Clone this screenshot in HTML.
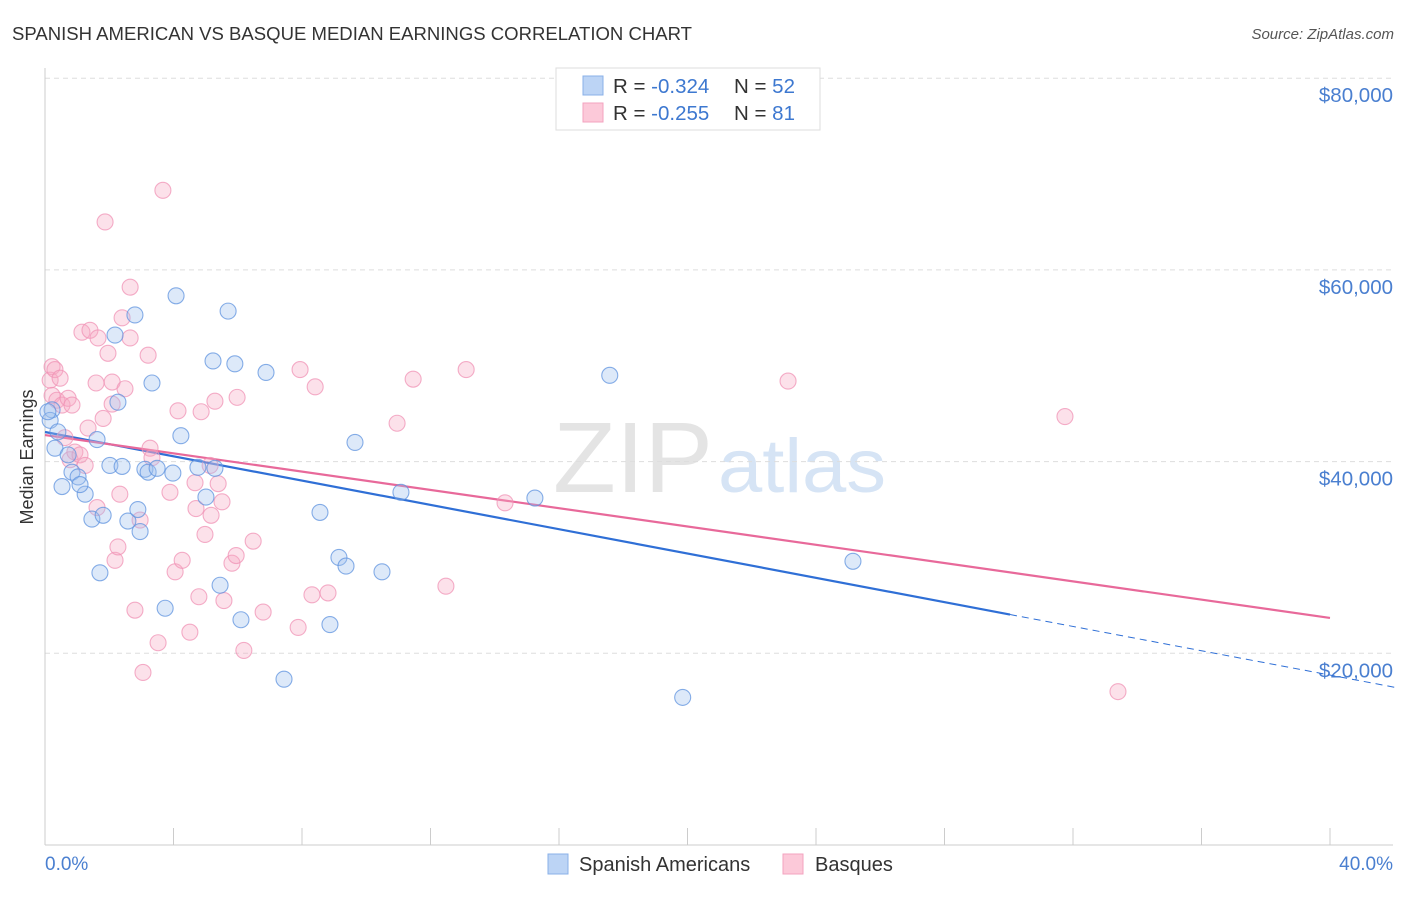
<!DOCTYPE html>
<html><head><meta charset="utf-8"><style>
body{margin:0;background:#fff;font-family:"Liberation Sans",sans-serif}
svg text{font-family:"Liberation Sans",sans-serif}
</style></head><body>
<svg id="chart" width="1406" height="892" xmlns="http://www.w3.org/2000/svg">
<text x="12" y="40" font-size="18" fill="#333" textLength="680" lengthAdjust="spacingAndGlyphs">SPANISH AMERICAN VS BASQUE MEDIAN EARNINGS CORRELATION CHART</text>
<text x="1394" y="39" font-size="15" fill="#555" font-style="italic" text-anchor="end">Source: ZipAtlas.com</text>
<g>
<text x="553" y="492" font-size="100" font-family="Liberation Serif" fill="#e4e4e4" textLength="160" lengthAdjust="spacingAndGlyphs">ZIP</text>
<text x="718" y="492" font-size="76" fill="#d6e4f5" textLength="168" lengthAdjust="spacingAndGlyphs">atlas</text>
</g>
<g id="grid"></g>
<g id="axes"></g>
<g id="lines"></g>
<g id="pts"></g>
<text transform="translate(33,457) rotate(-90)" font-size="18" fill="#333" text-anchor="middle">Median Earnings</text>
<text x="45" y="870" font-size="19" fill="#4a7fd0">0.0%</text>
<text x="1393" y="870" font-size="19" fill="#4a7fd0" text-anchor="end">40.0%</text>
<g>
<rect x="556" y="68" width="264" height="62" fill="#fff" stroke="#ddd"/>
<rect x="583" y="76" width="20" height="19" fill="#bcd4f5" stroke="#8ab0e8"/>
<rect x="583" y="103" width="20" height="19" fill="#fcc9d9" stroke="#f3a3bf"/>
<text x="613" y="93" font-size="20.5" fill="#333">R = <tspan fill="#3d78d0">-0.324</tspan><tspan x="734">N = </tspan><tspan fill="#3d78d0">52</tspan></text>
<text x="613" y="120" font-size="20.5" fill="#333">R = <tspan fill="#3d78d0">-0.255</tspan><tspan x="734">N = </tspan><tspan fill="#3d78d0"> 81</tspan></text>
</g>
<g>
<rect x="548" y="854" width="20" height="20" fill="#bcd4f5" stroke="#8ab0e8"/>
<text x="579" y="871" font-size="20" fill="#333">Spanish Americans</text>
<rect x="783" y="854" width="20" height="20" fill="#fcc9d9" stroke="#f3a3bf"/>
<text x="815" y="871" font-size="20" fill="#333">Basques</text>
</g>
</svg>
<script>
const blueX=[0.22,0.16,0.40,0.31,0.72,0.53,0.84,1.03,1.25,1.09,1.62,1.46,1.81,1.71,2.02,2.18,2.27,2.40,2.58,2.80,2.89,2.96,3.11,3.21,3.33,3.49,3.74,3.98,4.08,4.23,4.76,5.01,5.23,5.29,5.45,5.70,5.91,6.10,6.88,7.44,8.56,8.87,9.15,9.37,9.65,10.49,11.08,15.25,17.58,19.85,25.15,0.09];
const blueY=[45.4,44.3,43.1,41.4,40.7,37.4,38.9,38.4,36.6,37.6,42.3,34.0,34.4,28.4,39.6,53.2,46.2,39.5,33.8,55.3,35.0,32.7,39.2,38.9,48.2,39.3,24.7,38.8,57.3,42.7,39.4,36.3,50.5,39.3,27.1,55.7,50.2,23.5,49.3,17.3,34.7,23.0,30.0,29.1,42.0,28.5,36.8,36.2,49.0,15.4,29.6,45.2];
const pinkX=[0.22,0.16,0.31,0.47,0.22,0.37,0.53,0.72,0.84,0.62,0.78,0.93,1.09,1.25,1.15,1.34,1.40,1.59,1.65,1.62,1.81,1.87,1.96,2.09,2.09,2.18,2.27,2.33,2.49,2.40,2.65,2.65,2.80,2.96,3.05,3.21,3.27,3.33,3.52,3.67,3.89,4.05,4.14,4.27,4.51,4.67,4.70,4.79,4.86,4.98,5.14,5.17,5.29,5.39,5.51,5.57,5.82,5.95,5.98,6.19,6.48,6.79,7.88,7.94,8.31,8.41,8.81,10.96,11.46,12.48,13.11,14.32,23.13,31.75,33.40];
const pinkY=[49.9,48.5,49.6,48.7,46.9,46.4,45.9,46.6,45.9,42.5,40.2,41.0,40.7,39.6,53.5,43.5,53.7,48.2,52.9,35.2,44.5,65.0,51.3,48.3,46.0,29.7,31.1,36.6,47.6,55.0,58.2,52.9,24.5,33.9,18.0,51.1,41.4,40.4,21.1,68.3,36.8,28.5,45.3,29.7,22.2,37.8,35.1,25.9,45.2,32.4,39.6,34.4,46.3,37.7,35.8,25.5,29.4,30.2,46.7,20.3,31.7,24.3,22.7,49.6,26.1,47.8,26.3,44.0,48.6,27.0,49.6,35.7,48.4,44.7,16.0];
const blueTrend=[43.09,-0.634];
const pinkTrend=[42.77,-0.477];
const yTicks=[20,40,60,80];
const yTickLabels=["$20,000","$40,000","$60,000","$80,000"];
const xTicks=[0,4,8,12,16,20,24,28,32,36,40];

const X=v=>45+v/40*1285;
const Y=v=>845-v/20*191.7;
const NS="http://www.w3.org/2000/svg";
function mk(tag,parent,attrs){const e=document.createElementNS(NS,tag);for(const k in attrs)e.setAttribute(k,attrs[k]);parent.appendChild(e);return e;}
const grid=document.getElementById('grid'),axes=document.getElementById('axes'),lines=document.getElementById('lines'),pts=document.getElementById('pts');
yTicks.forEach((t,i)=>{
 const l=mk('line',grid,{x1:45,x2:1393,y1:Y(t),y2:Y(t),stroke:'#ddd','stroke-dasharray':'5,4'});
 
 
 const tx=mk('text',axes,{x:1393,y:Y(t)+24,'font-size':20.5,fill:'#4a7fd0','text-anchor':'end'});
 tx.textContent=yTickLabels[i];
 
 
});
const al=mk('line',axes,{x1:45,x2:45,y1:68,y2:845,stroke:'#ccc'});


const bl=mk('line',axes,{x1:45,x2:1393,y1:845,y2:845,stroke:'#ccc'});


xTicks.forEach(t=>{
 const k=mk('line',axes,{x1:X(t),x2:X(t),y1:828,y2:845,stroke:'#ccc'});
 
 
});
function trend(tr,x0,x1,color,dash,name){
 const l=mk('line',lines,{x1:X(x0),y1:Y(tr[0]+tr[1]*x0),x2:X(x1),y2:Y(tr[0]+tr[1]*x1),stroke:color,'stroke-width':dash?1:2.2});
 if(dash)l.setAttribute('stroke-dasharray','7,5');
 
 
}
trend(blueTrend,0,30.04,'#2f6fd6',false,'spanish-trend-line');
trend(blueTrend,30.04,42,'#2f6fd6',true,'spanish-trend-extension');
trend(pinkTrend,0,40,'#e8699a',false,'basque-trend-line');
function dots(xs,ys,fill,stroke,name){
 xs.forEach((x,i)=>{
  const c=mk('circle',pts,{cx:X(x),cy:Y(ys[i]),r:8,fill:fill,'fill-opacity':0.35,stroke:stroke,'stroke-width':1.1,'stroke-opacity':0.75});
  
  
 });
}
dots(pinkX,pinkY,'#f7a8c3','#f093b5','basque-point');
dots(blueX,blueY,'#9fc0ef','#5f93df','spanish-point');
</script>
</body></html>
